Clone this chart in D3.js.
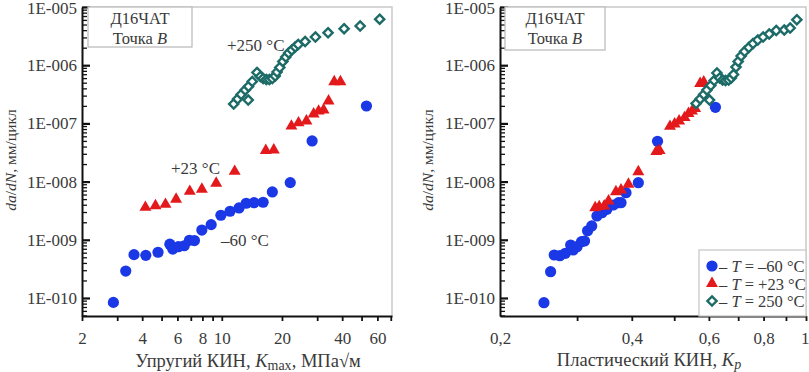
<!DOCTYPE html>
<html><head><meta charset="utf-8">
<script src="https://cdn.jsdelivr.net/npm/d3@7"></script>
<style>
body{margin:0;background:#fff;}
svg text{font-family:"Liberation Serif","DejaVu Serif",serif;fill:#3a3a3a;}
</style></head>
<body><svg id="c" width="809" height="372"></svg>
<script>
// ---------- data ----------
const seriesNames = ["T = –60 °C", "T = +23 °C", "T = 250 °C"];
// Left chart: elastic SIF Kmax (MPa√m) vs da/dN (mm/cycle)
const leftBlueK = [2.87,3.31,3.64,4.17,4.80,5.50,5.69,6.07,6.49,6.89,7.30,7.95,8.85,9.90,11.0,12.2,13.25,14.5,16.1,17.9,22.0,28.3,52.9];
const leftBlueV = [8.4e-11,2.9e-10,5.55e-10,5.4e-10,6.1e-10,8.4e-10,6.9e-10,7.6e-10,7.9e-10,9.8e-10,9.7e-10,1.47e-9,1.82e-9,2.64e-9,3.09e-9,3.52e-9,4.24e-9,4.34e-9,4.41e-9,6.63e-9,9.6e-9,4.99e-8,1.99e-7];
const leftRedK = [4.15,4.66,5.23,5.91,6.92,7.95,9.38,11.6,16.6,18.2,22.3,24.2,26.5,28.8,30.5,32.3,34.2,36.5,39.2];
const leftRedV = [3.61e-9,3.85e-9,4.07e-9,4.97e-9,6.81e-9,7.38e-9,9.35e-9,1.5e-8,3.42e-8,3.49e-8,9.0e-8,1.02e-7,1.10e-7,1.45e-7,1.63e-7,1.70e-7,2.43e-7,5.2e-7,5.2e-7];
const leftTealK = [11.47,12.0,12.5,13.1,13.6,13.56,14.2,15.0,15.6,16.1,16.7,17.3,17.9,18.5,18.9,19.5,20.2,20.9,21.6,22.4,23.3,24.1,26.1,29.4,34.0,40.9,49.2,61.6];
const leftTealV = [2.16e-7,2.63e-7,3.14e-7,3.75e-7,4.31e-7,2.52e-7,5.25e-7,7.49e-7,6.4e-7,5.91e-7,5.68e-7,5.68e-7,5.91e-7,6.52e-7,7.64e-7,9.13e-7,1.16e-6,1.38e-6,1.62e-6,1.82e-6,2.05e-6,2.27e-6,2.55e-6,3.05e-6,3.6e-6,4.24e-6,4.72e-6,6.17e-6];
// Right chart: plastic SIF Kp vs da/dN
const rightBlueK = [0.252,0.261,0.266,0.274,0.282,0.290,0.294,0.300,0.307,0.312,0.317,0.324,0.333,0.342,0.351,0.363,0.373,0.378,0.388,0.414,0.458,0.621];
const rightBlueV = [8.3e-11,2.83e-10,5.48e-10,5.33e-10,5.86e-10,8.14e-10,6.68e-10,7.6e-10,9.27e-10,9.53e-10,1.43e-9,1.73e-9,2.56e-9,2.92e-9,3.34e-9,3.96e-9,4.34e-9,4.34e-9,6.45e-9,9.58e-9,4.92e-8,1.89e-7];
const rightRedK = [0.330,0.337,0.346,0.354,0.368,0.378,0.393,0.414,0.455,0.463,0.489,0.501,0.513,0.528,0.539,0.549,0.558,0.573,0.584];
const rightRedV = [3.56e-9,3.71e-9,3.81e-9,4.64e-9,6.7e-9,7.18e-9,9.0e-9,1.48e-8,3.27e-8,3.4e-8,8.91e-8,9.77e-8,1.10e-7,1.26e-7,1.48e-7,1.63e-7,1.80e-7,4.85e-7,5.14e-7];
const rightTealK = [0.561,0.573,0.584,0.594,0.602,0.606,0.617,0.626,0.635,0.645,0.655,0.666,0.675,0.683,0.692,0.700,0.711,0.724,0.740,0.757,0.776,0.798,0.824,0.855,0.892,0.920,0.953];
const rightTealV = [2.2e-7,2.63e-7,3.14e-7,3.75e-7,2.52e-7,4.48e-7,5.46e-7,7.35e-7,6.03e-7,5.57e-7,5.46e-7,5.57e-7,6.03e-7,6.92e-7,9.31e-7,1.16e-6,1.44e-6,1.72e-6,2.01e-6,2.36e-6,2.71e-6,3.05e-6,3.44e-6,3.95e-6,4.03e-6,4.36e-6,6.05e-6];
// axes / ticks
const yMajorTicks = [1e-10,1e-9,1e-8,1e-7,1e-6,1e-5];
const yTickLabels = ["1E-010","1E-009","1E-008","1E-007","1E-006","1E-005"];
const leftXTicks = [2,3,4,5,6,7,8,9,10,20,30,40,50,60,70];
const leftXLabels = [2,4,6,8,10,20,40,60];
const rightXTicks = [0.3,0.4,0.5,0.6,0.7,0.8,0.9,1.0];
const rightXLabels = [0.2,0.4,0.6,0.8,1.0];

// ---------- drawing ----------
const svg = d3.select("#c");
const TOP=7, BOT=316;
const FONT = "Liberation Serif";
const COL = {blue:"#1a38e6", red:"#e3191c", teal:"#1d6b67"};
const yScale = d3.scaleLog().domain([4.9e-11,1e-5]).range([BOT,TOP]);
const yMinor = [];
for (let e=-11;e<=-6;e++) for (let m=2;m<=9;m++){const v=m*Math.pow(10,e); if(v>=4.9e-11&&v<=1e-5) yMinor.push(v);}

function panel(x0,x1,xDomain,xTicks,xLabels,fmt){
  const x = d3.scaleLog().domain(xDomain).range([x0,x1]);
  const g = svg.append("g");
  g.append("path").attr("d",`M${x0},${TOP}H${x1}V${BOT}`).attr("fill","none").attr("stroke","#c9c9c9").attr("stroke-width",1.5);
  const xa = g.append("g").attr("transform",`translate(0,${BOT})`)
    .call(d3.axisBottom(x).tickValues(xTicks).tickSize(5).tickSizeOuter(0).tickFormat(""));
  xa.select(".domain").attr("stroke","#111").attr("stroke-width",2);
  xa.selectAll(".tick line").attr("stroke","#111").attr("stroke-width",1.8);
  const xl = g.append("g").attr("transform",`translate(0,${BOT})`)
    .call(d3.axisBottom(x).tickValues(xLabels).tickSize(0).tickPadding(16).tickFormat(fmt));
  xl.select(".domain").remove();
  xl.attr("font-family",FONT);
  xl.selectAll("text").attr("font-size",17).attr("font-family",FONT).attr("fill","#3a3a3a");
  const ym = g.append("g").attr("transform",`translate(${x0},0)`)
    .call(d3.axisLeft(yScale).tickValues(yMinor).tickSize(-5).tickSizeOuter(0).tickFormat(""));
  ym.select(".domain").remove();
  ym.selectAll(".tick line").attr("stroke","#111").attr("stroke-width",1.3);
  const yM = g.append("g").attr("transform",`translate(${x0},0)`)
    .call(d3.axisLeft(yScale).tickValues(yMajorTicks).tickSize(-8).tickSizeOuter(0).tickPadding(5)
      .tickFormat((d,i)=>yTickLabels[i]));
  yM.attr("font-family",FONT);
  yM.select(".domain").attr("stroke","#111").attr("stroke-width",2);
  yM.selectAll(".tick line").attr("stroke","#111").attr("stroke-width",2.2);
  yM.selectAll("text").attr("font-size",17).attr("font-family",FONT).attr("fill","#3a3a3a");
  yM.selectAll(".tick text").filter(d=>d===1e-5).attr("y",1.5);
  return {x,g,xl};
}

function marker(sel,kind,x,y){
  if(kind==="circle") return sel.append("circle").attr("cx",x).attr("cy",y).attr("r",5.6).attr("fill",COL.blue);
  if(kind==="tri") return sel.append("path").attr("d",d3.symbol().type(d3.symbolTriangle).size(62)).attr("transform",`translate(${x},${y})`).attr("fill",COL.red);
  const s=4.6;
  return sel.append("path").attr("d",`M0,${-s}L${s},0L0,${s}L${-s},0Z`).attr("transform",`translate(${x},${y})`)
    .attr("fill","#fff").attr("stroke",COL.teal).attr("stroke-width",2.4);
}

function drawSeries(p,K,V,kind){
  const g = p.g.append("g");
  K.forEach((k,i)=>marker(g,kind,p.x(k),yScale(V[i])));
}

function infoBox(x,y,w,h){
  svg.append("rect").attr("x",x).attr("y",y).attr("width",w).attr("height",h).attr("fill","#fff").attr("stroke","#bdbdbd").attr("stroke-width",1.3);
  svg.append("text").attr("x",x+w/2).attr("y",y+17).attr("text-anchor","middle").attr("font-size",16.5).text("Д16ЧАТ");
  const t=svg.append("text").attr("x",x+w/2).attr("y",y+37).attr("text-anchor","middle").attr("font-size",16.5);
  t.append("tspan").text("Точка ");
  t.append("tspan").attr("font-style","italic").text("B");
}

function yTitle(cx){
  const t = svg.append("text").attr("transform",`translate(${cx},160) rotate(-90)`).attr("text-anchor","middle").attr("font-size",15.5);
  t.append("tspan").attr("font-style","italic").text("da");
  t.append("tspan").text("/");
  t.append("tspan").attr("font-style","italic").text("dN");
  t.append("tspan").text(", мм/цикл");
}

// Left panel
const L = panel(82,392,[2,71],leftXTicks,leftXLabels,d=>String(d));
drawSeries(L,leftBlueK,leftBlueV,"circle");
drawSeries(L,leftRedK,leftRedV,"tri");
drawSeries(L,leftTealK,leftTealV,"diamond");
infoBox(88,7,104,40);
yTitle(16);
svg.append("text").attr("x",227).attr("y",51).attr("font-size",17).text("+250 °C");
svg.append("text").attr("x",171).attr("y",174).attr("font-size",17).text("+23 °C");
svg.append("text").attr("x",221).attr("y",246).attr("font-size",17).text("–60 °C");
{
  const t = svg.append("text").attr("x",248).attr("y",367).attr("text-anchor","middle").attr("font-size",18.5);
  t.append("tspan").text("Упругий КИН, ");
  t.append("tspan").attr("font-style","italic").text("K");
  t.append("tspan").attr("font-size",14).attr("dy",3).text("max");
  t.append("tspan").attr("dy",-3).text(", МПа√м");
}

// Right panel
const R = panel(500,806,[0.2,1.0],rightXTicks,rightXLabels,d=>d===1?"1":String(d).replace(".",","));
R.xl.selectAll(".tick text").filter(d=>d===1).attr("text-anchor","end").attr("dx",3);
drawSeries(R,rightBlueK,rightBlueV,"circle");
drawSeries(R,rightRedK,rightRedV,"tri");
drawSeries(R,rightTealK,rightTealV,"diamond");
infoBox(505,7,100,43);
yTitle(433);
{
  const t = svg.append("text").attr("x",649).attr("y",366).attr("text-anchor","middle").attr("font-size",18.5);
  t.append("tspan").text("Пластический КИН, ");
  t.append("tspan").attr("font-style","italic").text("K");
  t.append("tspan").attr("font-style","italic").attr("font-size",14).attr("dy",3).text("p");
}
// Legend
{
  const lg = svg.append("g");
  lg.append("rect").attr("x",699).attr("y",250).attr("width",107).attr("height",66).attr("fill","#fff").attr("stroke","#c9c9c9").attr("stroke-width",1.3);
  const kinds=["circle","tri","diamond"];
  seriesNames.forEach((n,i)=>{
    const cy = 266 + i*17.5, cx=712;
    marker(lg,kinds[i],cx,cy);
    const t = lg.append("text").attr("x",719).attr("y",cy+6).attr("font-size",16.5);
    t.append("tspan").text("– ");
    t.append("tspan").attr("font-style","italic").text("T");
    t.append("tspan").text(n.slice(1));
  });
}
</script></body></html>
